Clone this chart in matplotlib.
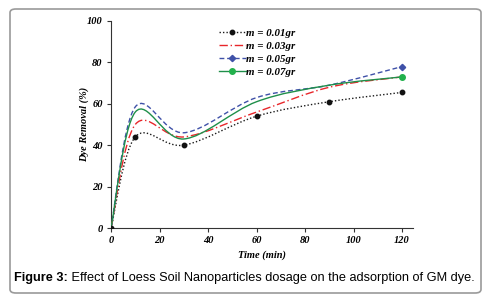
import numpy as np
import matplotlib
matplotlib.use('Agg')
import matplotlib.pyplot as plt
from matplotlib.path import Path
from matplotlib.patches import PathPatch, FancyBboxPatch
from matplotlib.lines import Line2D
from matplotlib.legend_handler import HandlerLine2D

# data
time = [0, 10, 30, 60, 90, 120]
removal_001 = [0, 44, 40, 54, 61, 65.5]
removal_003 = [0, 50, 44, 56, 68, 73]
removal_005 = [0, 58.5, 46, 63, 69, 78]
removal_007 = [0, 56, 43, 61, 69, 73]
series_labels = ['m = 0.01gr', 'm = 0.03gr', 'm = 0.05gr', 'm = 0.07gr']


def smoothPath(xs, ys):
    """Excel-like smoothed line: cubic Bezier segments through the points."""
    pts = np.column_stack([xs, ys]).astype(float)
    verts = [pts[0]]
    codes = [Path.MOVETO]
    n = len(pts)
    for i in range(n - 1):
        p0 = pts[max(i - 1, 0)]
        p1 = pts[i]
        p2 = pts[i + 1]
        p3 = pts[min(i + 2, n - 1)]
        verts += [p1 + (p2 - p0) / 6, p2 - (p3 - p1) / 6, p2]
        codes += [Path.CURVE4] * 3
    return Path(verts, codes)


class MarkerAtEnd(HandlerLine2D):
    # legend handle with the marker at the right end of the line sample
    def get_xdata(self, legend, xdescent, ydescent, width, height, fontsize):
        xdata = np.array([-xdescent, -xdescent + width])
        return xdata, np.array([-xdescent + 0.95 * width])


fig = plt.figure(figsize=(4.88, 3.02), dpi=100)

# rounded frame around the figure
frame = FancyBboxPatch((10 / 488, 9 / 302), 471 / 488, 284 / 302,
                       boxstyle='round,pad=0,rounding_size=0.012',
                       transform=fig.transFigure, facecolor='none',
                       edgecolor='#9a9a9a', linewidth=1.2, zorder=-1)
fig.patches.append(frame)

ax = fig.add_axes([111 / 488, 1 - 228 / 302, 302 / 488, 207 / 302])
ax.set_facecolor('none')

styles = [
    dict(color='#1a1a1a', linestyle=(0, (1, 1.5)), marker='o', ms=3.2, mark=[0, 1, 2, 3, 4, 5]),
    dict(color='#e8262a', linestyle=(0, (6, 2, 1, 2)), marker=None, ms=0, mark=[]),
    dict(color='#3f51a8', linestyle=(0, (3.5, 2)), marker='D', ms=3.2, mark=[5]),
    dict(color='#1f8f4a', linestyle='-', marker='o', ms=4, mark=[5]),
]
allSeries = [removal_001, removal_003, removal_005, removal_007]
markerColors = ['#111111', '#e8262a', '#3f51a8', '#22b14c']

handles = []
for vals, st, mc, lab in zip(allSeries, styles, markerColors, series_labels):
    patch = PathPatch(smoothPath(time, vals), fill=False, edgecolor=st['color'],
                      linestyle=st['linestyle'], linewidth=1.0, zorder=3)
    ax.add_patch(patch)
    if st['mark']:
        ax.plot([time[i] for i in st['mark']], [vals[i] for i in st['mark']],
                linestyle='none', marker=st['marker'], color=mc, ms=st['ms'], zorder=4)
    handles.append(Line2D([], [], color=st['color'], linestyle=st['linestyle'],
                          linewidth=1.0, marker=st['marker'], ms=st['ms'],
                          markerfacecolor=mc, markeredgecolor=mc))

ax.set_xlim(0, 124.5)
ax.set_ylim(0, 100)
ax.set_xticks(np.arange(0, 121, 20))
ax.set_yticks(np.arange(0, 101, 20))

serif = 'Liberation Serif'
for lab in ax.get_xticklabels() + ax.get_yticklabels():
    lab.set_family(serif)
    lab.set_style('italic')
    lab.set_weight('bold')
    lab.set_fontsize(7.5)

for side in ['top', 'right']:
    ax.spines[side].set_visible(False)
for side in ['left', 'bottom']:
    ax.spines[side].set_color('#333333')
    ax.spines[side].set_linewidth(0.8)
ax.tick_params(direction='out', length=3, width=0.8, color='#333333', pad=3)

ax.set_xlabel('Time (min)', family=serif, style='italic', weight='bold', fontsize=7.5, labelpad=4)
ax.set_ylabel('Dye Removal (%)', family=serif, style='italic', weight='bold', fontsize=7.5, labelpad=-1.5)

leg = ax.legend(handles, series_labels, loc='upper left', bbox_to_anchor=(0.325, 1.01),
                frameon=False, handlelength=2.5, handletextpad=0.0, labelspacing=0.3,
                prop=dict(family=serif, style='italic', weight='bold', size=7.8),
                handler_map={handles[2]: MarkerAtEnd(), handles[3]: MarkerAtEnd()})

# caption: bold prefix followed by regular text
boldPart = fig.text(14 / 488, 24 / 302, 'Figure 3:', ha='left', va='center',
                    fontsize=9.2, family='Liberation Sans', weight='bold')
ax.annotate(' Effect of Loess Soil Nanoparticles dosage on the adsorption of GM dye.',
            xy=(1, 0.5), xycoords=boldPart, ha='left', va='center',
            fontsize=9.2, family='Liberation Sans', annotation_clip=False)

fig.savefig('out.png', dpi=100)
